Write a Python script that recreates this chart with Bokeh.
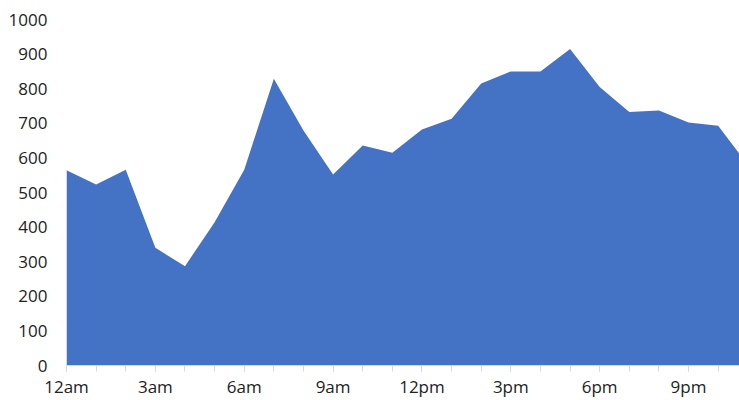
from bokeh.plotting import figure
from bokeh.models import Range1d, FixedTicker
from bokeh.embed import file_html
from bokeh.resources import INLINE

hours = list(range(24))
values = [564, 523, 566, 340, 287, 414, 566, 829, 679, 552, 636, 615,
          682, 713, 815, 850, 850, 915, 805, 733, 737, 702, 693, 580]
tick_hours = [0, 3, 6, 9, 12, 15, 18, 21]
tick_labels = ["12am", "3am", "6am", "9am", "12pm", "3pm", "6pm", "9pm"]
y_ticks = [0, 100, 200, 300, 400, 500, 600, 700, 800, 900, 1000]

p = figure(width=739, height=400, output_backend="svg", toolbar_location=None,
           x_range=Range1d(0, 22.72), y_range=Range1d(0, 1000),
           min_border_left=66, min_border_right=0, min_border_top=19,
           min_border_bottom=35)
p.outline_line_color = None
p.background_fill_color = "white"
p.border_fill_color = "white"
p.xgrid.visible = False
p.ygrid.visible = False

p.varea(x=hours, y1=[0] * len(hours), y2=values, fill_color="#4472C4")

font = "Open Sans"
label_color = "#222222"

xa = p.xaxis[0]
xa.ticker = FixedTicker(ticks=tick_hours, minor_ticks=hours)
xa.major_label_overrides = {h: l for h, l in zip(tick_hours, tick_labels)}
xa.axis_line_color = "#d9d9d9"
xa.major_tick_line_color = "#d9d9d9"
xa.minor_tick_line_color = "#d9d9d9"
xa.major_tick_in = 0
xa.minor_tick_in = 0
xa.major_tick_out = 6
xa.minor_tick_out = 6
xa.major_label_standoff = 3
xa.major_label_text_font = font
xa.major_label_text_font_size = "17px"
xa.major_label_text_baseline = "middle"
xa.major_label_text_color = label_color

ya = p.yaxis[0]
ya.ticker = FixedTicker(ticks=y_ticks)
ya.axis_line_color = None
ya.major_tick_line_color = None
ya.minor_tick_line_color = None
ya.major_tick_in = 0
ya.major_tick_out = 0
ya.major_label_standoff = 19
ya.major_label_text_font = font
ya.major_label_text_font_size = "17px"
ya.major_label_text_color = label_color

open("out.html", "w").write(file_html(p, INLINE))
